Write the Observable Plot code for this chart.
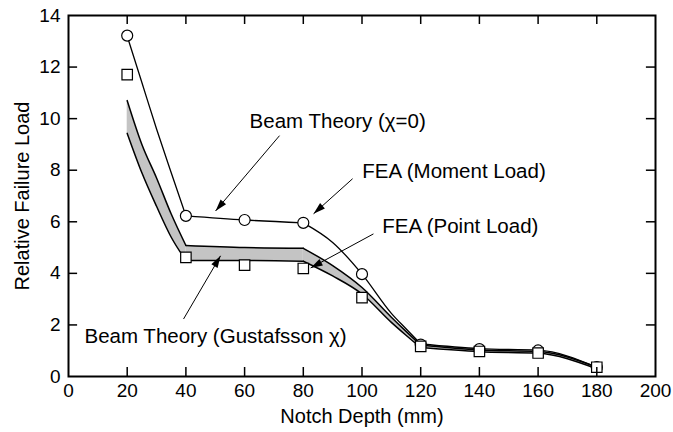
<!DOCTYPE html>
<html>
<head>
<meta charset="utf-8">
<script src="https://cdn.jsdelivr.net/npm/d3@7"></script>
<script src="https://cdn.jsdelivr.net/npm/@observablehq/plot@0.6"></script>
<style>
  html, body { margin: 0; padding: 0; background: white; }
</style>
</head>
<body>
<div id="chart"></div>
<script>
// FEA (Moment Load) — circles
const notchDepth = [20, 40, 60, 80, 100, 120, 140, 160, 180];
const feaMoment = [13.22, 6.23, 6.07, 5.96, 3.97, 1.24, 1.06, 1.01, 0.36];
// FEA (Point Load) — squares
const feaPoint = [11.71, 4.62, 4.32, 4.19, 3.06, 1.17, 0.97, 0.91, 0.36];

// Beam Theory (chi = 0) — smooth line
const beamX = [20, 25, 30, 35, 40, 60, 80, 90, 100, 110, 115, 120, 140, 160, 180];
const beamZero = [13.2, 11.4, 9.6, 7.9, 6.23, 6.07, 5.96, 5.2, 3.97, 2.45, 1.85, 1.26, 1.08, 1.02, 0.36];

// Beam Theory (Gustafsson chi) — shaded band
const bandX = [20, 25, 30, 35, 40, 60, 80, 90, 100, 110, 115, 120, 140, 160, 180];
const bandUpper = [10.7, 9.0, 7.7, 6.3, 5.08, 5.0, 4.97, 4.3, 3.45, 2.3, 1.75, 1.22, 1.03, 0.97, 0.36];
const bandLower = [9.43, 7.9, 6.6, 5.4, 4.5, 4.5, 4.47, 3.9, 3.2, 2.1, 1.6, 1.12, 0.96, 0.9, 0.3];

// Curve pieces meet at these notch depths (sharp corners)
const breaks = [40, 80, 120];

// Tick labels
const xTicks = [0, 20, 40, 60, 80, 100, 120, 140, 160, 180, 200];
const yTicks = [0, 2, 4, 6, 8, 10, 12, 14];
const xInner = [20, 40, 60, 80, 100, 120, 140, 160, 180];
const yInner = [2, 4, 6, 8, 10, 12];

// Annotation texts
const labels = ["Beam Theory (χ=0)", "FEA (Moment Load)", "FEA (Point Load)", "Beam Theory (Gustafsson χ)"];

// split rows into pieces, duplicating the points at the break positions
function pieces(xs, row) {
  const out = [];
  xs.forEach((x, i) => {
    const seg = breaks.filter(b => x > b).length;
    out.push({...row(i), x, seg});
    if (breaks.includes(x)) out.push({...row(i), x, seg: seg + 1});
  });
  return out;
}

const fea = notchDepth.map((x, i) => ({x, moment: feaMoment[i], point: feaPoint[i]}));
const beam = pieces(beamX, i => ({y: beamZero[i]}));
const band = pieces(bandX, i => ({lo: bandLower[i], hi: bandUpper[i]}));

const annotations = [
  {text: labels[0], tx: 61.7, ty: 9.9, x1: 71.9, y1: 9.34, x2: 50.1, y2: 6.42},
  {text: labels[1], tx: 100.1, ty: 7.94, x1: 96.8, y1: 7.67, x2: 83.5, y2: 6.31},
  {text: labels[2], tx: 106.9, ty: 5.83, x1: 103.9, y1: 5.53, x2: 82.5, y2: 4.21},
  {text: labels[3], tx: 5.45, ty: 1.56, x1: 39.2, y1: 2.23, x2: 51.8, y2: 4.68}
];

const chart = Plot.plot({
  width: 673,
  height: 432,
  marginLeft: 68,
  marginRight: 18,
  marginTop: 15,
  marginBottom: 56,
  style: {fontFamily: "'Liberation Sans', Arial, Helvetica, sans-serif", fontSize: "20px", color: "black", background: "white"},
  x: {domain: [0, 200]},
  y: {domain: [0, 14]},
  marks: [
    Plot.areaY(band, {x: "x", y1: "lo", y2: "hi", z: "seg", fill: "#c4c4c4", curve: "monotone-x"}),
    Plot.line(band, {x: "x", y: "hi", z: "seg", stroke: "black", strokeWidth: 1.5, curve: "monotone-x"}),
    Plot.line(band, {x: "x", y: "lo", z: "seg", stroke: "black", strokeWidth: 1.5, curve: "monotone-x"}),
    Plot.line(beam, {x: "x", y: "y", z: "seg", stroke: "black", strokeWidth: 1.3, curve: "monotone-x"}),
    Plot.dot(fea, {x: "x", y: "moment", r: 5.5, fill: "white", stroke: "black", strokeWidth: 1.2}),
    Plot.dot(fea, {x: "x", y: "point", symbol: "square", r: 5.9, fill: "white", stroke: "black", strokeWidth: 1.2}),
    // inward ticks
    Plot.ruleX(xInner, {x: d => d, y1: 0, y2: 0.35, stroke: "black", strokeWidth: 1.5}),
    Plot.ruleX(xInner, {x: d => d, y1: 14, y2: 13.65, stroke: "black", strokeWidth: 1.5}),
    Plot.ruleY(yInner, {y: d => d, x1: 0, x2: 3.1, stroke: "black", strokeWidth: 1.5}),
    Plot.ruleY(yInner, {y: d => d, x1: 200, x2: 196.9, stroke: "black", strokeWidth: 1.5}),
    Plot.frame({stroke: "black", strokeWidth: 2}),
    Plot.axisX(xTicks, {tickSize: 0, tickPadding: 7, fontSize: 19, label: null}),
    Plot.axisY(yTicks, {tickSize: 0, tickPadding: 8, fontSize: 19, label: null}),
    Plot.axisX({tickSize: 0, ticks: [], label: "Notch Depth (mm)", labelAnchor: "center", labelOffset: 46, labelArrow: "none", fontSize: 20}),
    Plot.axisY({tickSize: 0, ticks: [], label: "Relative Failure Load", labelAnchor: "center", labelOffset: 54, labelArrow: "none", fontSize: 20}),
    Plot.link(annotations, {x1: "x1", y1: "y1", x2: "x2", y2: "y2", stroke: "black", strokeWidth: 1, markerEnd: "arrow"}),
    Plot.text(annotations, {x: "tx", y: "ty", text: "text", textAnchor: "start", fontSize: 20.5, fill: "black"})
  ]
});

// Filled arrowheads
d3.select(chart).selectAll("marker")
  .attr("fill", "black")
  .attr("stroke", "none")
  .attr("viewBox", "-13 -5 14 10")
  .attr("markerWidth", 14)
  .attr("markerHeight", 10)
  .attr("refX", 0)
  .attr("refY", 0)
  .selectAll("path")
  .attr("d", "M-12,-3.6L0,0L-12,3.6Z");

document.getElementById("chart").appendChild(chart);
</script>
</body>
</html>
